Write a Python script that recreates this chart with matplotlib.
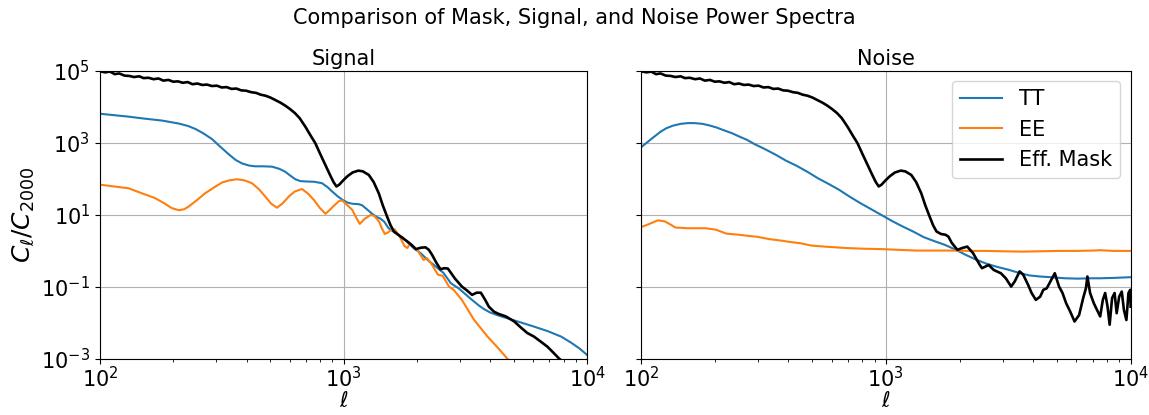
import numpy as np
import matplotlib
matplotlib.use('Agg')
import matplotlib.pyplot as plt

# values, stored as log10(C_ell / C_2000)

# effective mask, low-ell part (same in both panels)
mask_ell = [100, 105, 110, 115, 120, 126, 132, 138, 145, 151, 158, 166, 174, 182,
            191, 200, 209, 219, 229, 240, 251, 263, 275, 288, 302, 316, 331, 347,
            363, 380, 398, 417, 437, 457, 479, 501, 525, 550, 575, 603, 631,
            660, 697, 730, 766, 805, 843, 880, 910, 935, 960, 1000, 1040, 1090,
            1150, 1200, 1270, 1330, 1395, 1450, 1510, 1560, 1610]
mask_log = [4.98, 4.95, 4.97, 4.90, 4.92, 4.86, 4.85, 4.82, 4.84, 4.79, 4.80, 4.76, 4.78, 4.72,
            4.74, 4.69, 4.70, 4.66, 4.68, 4.62, 4.64, 4.60, 4.61, 4.57, 4.58, 4.53, 4.54, 4.49,
            4.50, 4.45, 4.44, 4.40, 4.38, 4.33, 4.30, 4.25, 4.18, 4.11, 4.03, 3.93, 3.82,
            3.68, 3.44, 3.21, 2.98, 2.66, 2.37, 2.10, 1.90, 1.78, 1.83, 1.96, 2.07, 2.17,
            2.22, 2.20, 2.10, 1.90, 1.59, 1.25, 0.94, 0.70, 0.53]

# mask tail, signal panel
mask_sig_ell = [1715, 1830, 1900, 1980, 2080, 2170, 2240, 2310, 2400, 2500, 2590, 2680,
                2760, 2860, 3060, 3200, 3370, 3520, 3660, 3800, 3950, 4150, 4330, 4640,
                5020, 5350, 5680, 6050, 6450, 6870, 7300, 7670, 8000]
mask_sig_log = [0.39, 0.25, 0.16, 0.04, 0.08, 0.09, 0.02, -0.12, -0.33, -0.52, -0.49, -0.50,
                -0.62, -0.77, -1.00, -1.10, -1.23, -1.17, -1.17, -1.35, -1.56, -1.70, -1.76, -1.83,
                -1.97, -2.14, -2.29, -2.39, -2.53, -2.67, -2.85, -3.00, -3.10]

# mask tail, noise panel
mask_noise_ell = [1680, 1750, 1800, 1860, 1960, 2050, 2150, 2270, 2420, 2470, 2630, 2760,
                  2950, 3090, 3250, 3360, 3520, 3640, 3810, 3940, 4100, 4270, 4400, 4540,
                  4700, 4900, 5100, 5270, 5450, 5660, 5900, 6160, 6400, 6570, 6660, 6830,
                  7070, 7290, 7510, 7700, 7870, 8050, 8210, 8400, 8600, 8770, 8980, 9200,
                  9390, 9610, 9800, 9970, 10000]
mask_noise_log = [0.46, 0.44, 0.39, 0.21, 0.02, 0.07, 0.11, -0.07, -0.40, -0.49, -0.40, -0.54,
                  -0.63, -0.77, -1.00, -0.86, -0.58, -0.67, -0.95, -1.18, -1.37, -1.28, -1.09, -1.05,
                  -0.86, -0.63, -1.00, -1.18, -1.46, -1.69, -1.97, -1.79, -1.32, -1.04, -0.72, -1.18,
                  -1.46, -1.65, -1.83, -1.37, -1.18, -1.56, -2.06, -1.32, -1.18, -1.74, -1.28, -1.14,
                  -1.65, -1.93, -1.18, -1.09, -1.56]

# signal TT
tt_sig_ell = [100, 131, 150, 180, 210, 230, 246, 265, 288, 310, 337, 360, 383, 410, 434,
              470, 509, 545, 576, 605, 634, 665, 697, 760, 816, 860, 898, 945, 989, 1040,
              1086, 1150, 1191, 1250, 1312, 1370, 1415, 1470, 1530, 1585, 1670, 1750, 1850,
              1930, 2070, 2230, 2350, 2570, 2760, 2970, 3340, 3600, 3780, 4000, 4300, 4700,
              5300, 6040, 6900, 7820, 8600, 9300, 10000]
tt_sig_log = [3.80, 3.72, 3.67, 3.61, 3.53, 3.46, 3.38, 3.26, 3.10, 2.90, 2.68, 2.52, 2.42, 2.36, 2.34,
              2.34, 2.33, 2.27, 2.19, 2.08, 1.98, 1.93, 1.92, 1.91, 1.87, 1.76, 1.64, 1.51, 1.41, 1.33,
              1.30, 1.29, 1.26, 1.14, 1.02, 0.93, 0.89, 0.80, 0.62, 0.55, 0.44, 0.36, 0.20,
              0.08, -0.07, -0.28, -0.40, -0.62, -0.91, -1.05, -1.35, -1.53, -1.63, -1.72, -1.80, -1.88,
              -1.99, -2.11, -2.24, -2.39, -2.56, -2.72, -2.90]

# signal EE
ee_sig_ell = [100, 131, 150, 168, 185, 197, 211, 222, 231, 250, 270, 295, 317, 340, 365,
              392, 421, 450, 477, 505, 533, 560, 596, 630, 675, 715, 755, 800, 843, 875,
              911, 960, 989, 1040, 1086, 1130, 1166, 1220, 1292, 1340, 1400, 1440, 1478,
              1520, 1565, 1620, 1700, 1780, 1830, 1870, 1940, 2030, 2130, 2200, 2300, 2440,
              2550, 2710, 2830, 3060, 3430, 3900, 4300, 4700, 5000]
ee_sig_log = [1.83, 1.73, 1.58, 1.46, 1.30, 1.18, 1.12, 1.15, 1.22, 1.40, 1.59, 1.76, 1.89, 1.95, 1.98,
              1.95, 1.87, 1.70, 1.50, 1.30, 1.19, 1.30, 1.50, 1.64, 1.71, 1.58, 1.41, 1.18, 1.02, 1.12,
              1.24, 1.38, 1.39, 1.25, 1.13, 0.90, 0.74, 0.88, 0.99, 0.96, 0.80, 0.60, 0.46,
              0.50, 0.57, 0.59, 0.39, 0.12, 0.07, 0.20, 0.11, -0.03, -0.26, -0.21, -0.38, -0.67,
              -0.70, -1.00, -1.09, -1.37, -1.92, -2.39, -2.70, -3.00, -3.20]

# noise TT
tt_noise_ell = [100, 111, 120, 127, 135, 145, 155, 165, 178, 189, 203, 216, 235, 255, 270,
                290, 320, 355, 390, 433, 480, 527, 580, 643, 710, 785, 870, 958, 1060, 1170,
                1300, 1430, 1580, 1740, 1920, 2120, 2350, 2590, 2870, 3160, 3500, 3850, 4250,
                4700, 5400, 6110, 6800, 7480, 8500, 10000]
tt_noise_log = [2.87, 3.12, 3.30, 3.40, 3.47, 3.52, 3.54, 3.54, 3.52, 3.48, 3.42, 3.35, 3.26, 3.15, 3.08,
                2.96, 2.82, 2.66, 2.50, 2.35, 2.18, 2.01, 1.86, 1.69, 1.50, 1.32, 1.15, 0.99, 0.82, 0.67,
                0.52, 0.37, 0.26, 0.16, 0.03, -0.12, -0.26, -0.37, -0.46, -0.53, -0.62, -0.69, -0.72,
                -0.74, -0.77, -0.78, -0.77, -0.77, -0.76, -0.74]

# noise EE
ee_noise_ell = [100, 108, 117, 125, 132, 138, 155, 183, 202, 223, 250, 272, 300, 332, 370,
                405, 450, 494, 560, 688, 820, 958, 1130, 1330, 1600, 1860, 2200, 2590, 3000,
                3600, 4300, 5020, 6000, 7000, 7500, 8500, 10000]
ee_noise_log = [0.65, 0.74, 0.84, 0.81, 0.72, 0.64, 0.62, 0.62, 0.58, 0.47, 0.44, 0.41, 0.38, 0.32, 0.28,
                0.24, 0.20, 0.14, 0.11, 0.07, 0.05, 0.04, 0.02, 0.00, 0.00, 0.00, -0.01, -0.01, -0.02,
                -0.03, -0.02, -0.01, -0.01, 0.00, 0.01, -0.01, -0.01]

y_ticks = [1e-3, 1e-1, 1e1, 1e3, 1e5]

plt.rcParams['font.size'] = 15

fig = plt.figure(figsize=(11.49, 4.15), dpi=100)
ax1 = fig.add_axes([0.087, 0.136, 0.424, 0.694])
ax2 = fig.add_axes([0.558, 0.136, 0.426, 0.694], sharey=ax1)


def pw(v):
    return np.power(10.0, np.array(v))


# signal panel
ax1.plot(tt_sig_ell, pw(tt_sig_log), color='#1f77b4', lw=1.5)
ax1.plot(ee_sig_ell, pw(ee_sig_log), color='#ff7f0e', lw=1.5)
ax1.plot(mask_ell + mask_sig_ell, pw(mask_log + mask_sig_log), color='black', lw=1.9)

# noise panel
ax2.plot(tt_noise_ell, pw(tt_noise_log), color='#1f77b4', lw=1.5, label='TT')
ax2.plot(ee_noise_ell, pw(ee_noise_log), color='#ff7f0e', lw=1.5, label='EE')
ax2.plot(mask_ell + mask_noise_ell, pw(mask_log + mask_noise_log), color='black', lw=1.9,
         label='Eff. Mask')

for ax in (ax1, ax2):
    ax.set_xscale('log')
    ax.set_yscale('log')
    ax.set_xlim(100, 10000)
    ax.set_ylim(1e-3, 1e5)
    ax.set_yticks(y_ticks)
    ax.grid(True, which='major')
    ax.tick_params(axis='x', pad=2)
    ax.set_xlabel(r'$\ell$', labelpad=0)

ax1.set_ylabel(r'$C_\ell / C_{2000}$', fontsize=18)
ax2.tick_params(labelleft=False)
ax1.set_title('Signal', fontsize=15, pad=4)
ax2.set_title('Noise', fontsize=15, pad=4)
ax2.legend(loc='upper right', fontsize=15)

fig.suptitle('Comparison of Mask, Signal, and Noise Power Spectra', fontsize=15, y=0.98)

plt.savefig('out.png', dpi=100)
plt.close()
